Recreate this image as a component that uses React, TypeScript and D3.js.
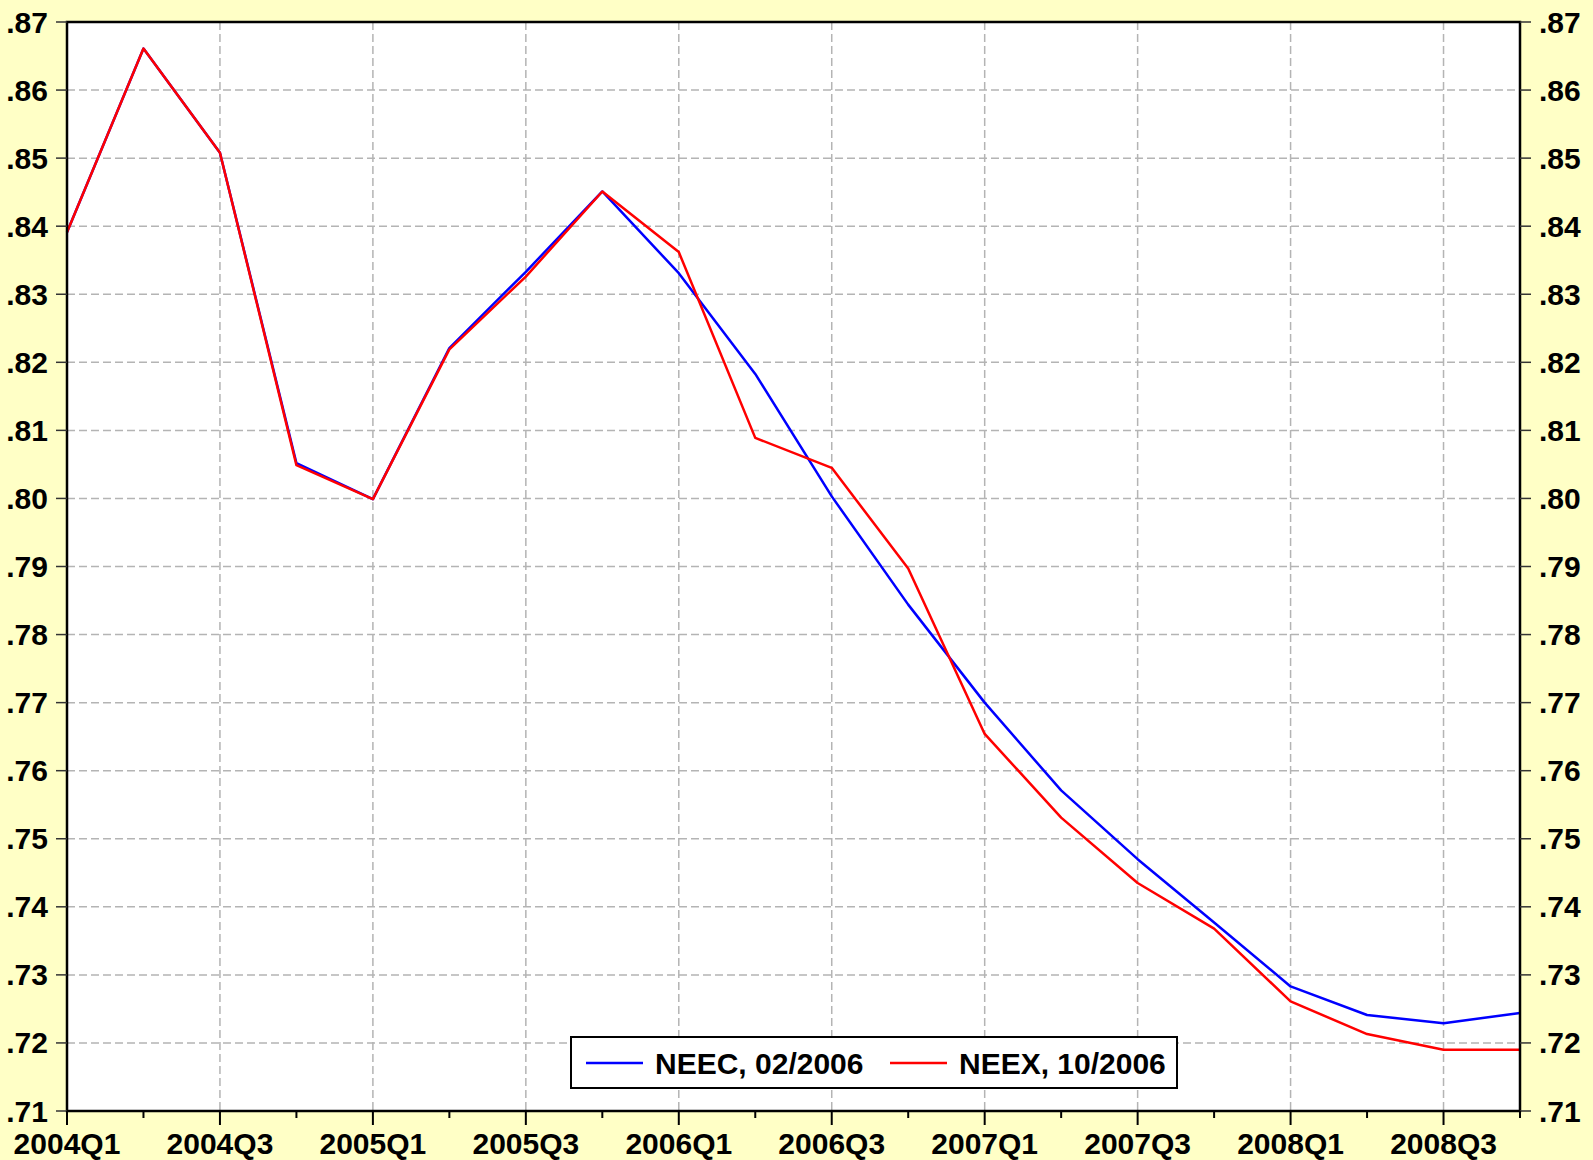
import * as d3 from "d3";
import { useEffect, useRef } from "react";

const quarters = [
  "2004Q1", "2004Q2", "2004Q3", "2004Q4",
  "2005Q1", "2005Q2", "2005Q3", "2005Q4",
  "2006Q1", "2006Q2", "2006Q3", "2006Q4",
  "2007Q1", "2007Q2", "2007Q3", "2007Q4",
  "2008Q1", "2008Q2", "2008Q3", "2008Q4",
];

const neec = [
  0.8391, 0.8661, 0.8508, 0.8052, 0.7999, 0.8221, 0.8333, 0.8451,
  0.8331, 0.8183, 0.8003, 0.7844, 0.7700, 0.7571, 0.7470, 0.7377,
  0.7283, 0.7241, 0.7229, 0.7244,
];

const neex = [
  0.8391, 0.8661, 0.8508, 0.8049, 0.7999, 0.8219, 0.8326, 0.8451,
  0.8362, 0.8089, 0.8045, 0.7897, 0.7654, 0.7531, 0.7435, 0.7368,
  0.7261, 0.7213, 0.7190, 0.7190,
];

const yTicks = [0.71, 0.72, 0.73, 0.74, 0.75, 0.76, 0.77, 0.78, 0.79, 0.8, 0.81, 0.82, 0.83, 0.84, 0.85, 0.86, 0.87];

const legendLabels = ["NEEC, 02/2006", "NEEX, 10/2006"];

export default function App() {
  const ref = useRef<SVGSVGElement | null>(null);

  useEffect(() => {
    const svg = d3.select(ref.current);
    svg.selectAll("*").remove();

    const width = 1593;
    const height = 1160;
    const left = 67;
    const right = 1520;
    const top = 22;
    const bottom = 1111;

    const font = "'Liberation Sans', Arial, sans-serif";
    const fs = 30;

    svg.attr("width", width).attr("height", height);

    svg.append("rect").attr("width", width).attr("height", height).attr("fill", "#FFFFC6");
    svg
      .append("rect")
      .attr("x", left)
      .attr("y", top)
      .attr("width", right - left)
      .attr("height", bottom - top)
      .attr("fill", "white");

    const x = d3.scalePoint<number>().domain(d3.range(quarters.length)).range([left, right]);
    const y = d3.scaleLinear().domain([0.71, 0.87]).range([bottom, top]);

    // grid
    const grid = svg.append("g").attr("stroke", "#b4b4b4").attr("stroke-width", 1.5).attr("stroke-dasharray", "8,4");
    grid
      .selectAll("line.h")
      .data(yTicks)
      .enter()
      .append("line")
      .attr("x1", left)
      .attr("x2", right)
      .attr("y1", (d) => y(d))
      .attr("y2", (d) => y(d));
    grid
      .selectAll("line.v")
      .data(d3.range(2, quarters.length, 2))
      .enter()
      .append("line")
      .attr("x1", (d) => x(d)!)
      .attr("x2", (d) => x(d)!)
      .attr("y1", top)
      .attr("y2", bottom);

    // series
    const line = d3
      .line<number>()
      .x((_, i) => x(i)!)
      .y((d) => y(d));

    svg.append("path").attr("d", line(neec)).attr("fill", "none").attr("stroke", "#0000ff").attr("stroke-width", 2.5).attr("stroke-linejoin", "round");
    svg.append("path").attr("d", line(neex)).attr("fill", "none").attr("stroke", "#ff0000").attr("stroke-width", 2.5).attr("stroke-linejoin", "round");

    // frame
    svg
      .append("rect")
      .attr("x", left)
      .attr("y", top)
      .attr("width", right - left)
      .attr("height", bottom - top)
      .attr("fill", "none")
      .attr("stroke", "black")
      .attr("stroke-width", 2.5);

    const fmt = (d: number) => d.toFixed(2).replace(/^0/, "");

    // left axis
    const yl = svg.append("g");
    yl.selectAll("line")
      .data(yTicks)
      .enter()
      .append("line")
      .attr("x1", left - 11)
      .attr("x2", left)
      .attr("y1", (d) => y(d))
      .attr("y2", (d) => y(d))
      .attr("stroke", "#333")
      .attr("stroke-width", 1.5);
    yl.selectAll("text")
      .data(yTicks)
      .enter()
      .append("text")
      .attr("x", 48)
      .attr("y", (d) => y(d))
      .attr("dy", "0.35em")
      .attr("text-anchor", "end")
      .attr("font-family", font)
      .attr("font-weight", "bold")
      .attr("font-size", fs)
      .text(fmt);

    // right axis
    const yr = svg.append("g");
    yr.selectAll("line")
      .data(yTicks)
      .enter()
      .append("line")
      .attr("x1", right)
      .attr("x2", right + 11)
      .attr("y1", (d) => y(d))
      .attr("y2", (d) => y(d))
      .attr("stroke", "#333")
      .attr("stroke-width", 1.5);
    yr.selectAll("text")
      .data(yTicks)
      .enter()
      .append("text")
      .attr("x", 1539)
      .attr("y", (d) => y(d))
      .attr("dy", "0.35em")
      .attr("text-anchor", "start")
      .attr("font-family", font)
      .attr("font-weight", "bold")
      .attr("font-size", fs)
      .text(fmt);

    // bottom axis
    const xb = svg.append("g");
    xb.selectAll("line")
      .data(d3.range(quarters.length))
      .enter()
      .append("line")
      .attr("x1", (d) => x(d)!)
      .attr("x2", (d) => x(d)!)
      .attr("y1", bottom)
      .attr("y2", (d) => (d % 2 === 0 ? bottom + 14 : bottom + 7))
      .attr("stroke", "black")
      .attr("stroke-width", 2);
    xb.selectAll("text")
      .data(d3.range(0, quarters.length, 2))
      .enter()
      .append("text")
      .attr("x", (d) => x(d)!)
      .attr("y", 1154)
      .attr("text-anchor", "middle")
      .attr("font-family", font)
      .attr("font-weight", "bold")
      .attr("font-size", fs)
      .text((d) => quarters[d]);

    // legend
    const lg = svg.append("g");
    lg.append("rect")
      .attr("x", 571)
      .attr("y", 1037)
      .attr("width", 606)
      .attr("height", 51)
      .attr("fill", "white")
      .attr("stroke", "black")
      .attr("stroke-width", 2);
    const items = [
      { label: legendLabels[0], color: "#0000ff", x0: 586 },
      { label: legendLabels[1], color: "#ff0000", x0: 890 },
    ];
    items.forEach((it) => {
      lg.append("line")
        .attr("x1", it.x0)
        .attr("x2", it.x0 + 57)
        .attr("y1", 1063)
        .attr("y2", 1063)
        .attr("stroke", it.color)
        .attr("stroke-width", 2.5);
      lg.append("text")
        .attr("x", it.x0 + 69)
        .attr("y", 1063)
        .attr("dy", "0.35em")
        .attr("font-family", font)
        .attr("font-weight", "bold")
        .attr("font-size", fs)
        .text(it.label);
    });
  }, []);

  return (
    <div style={{ position: "absolute", left: 0, top: 0 }}>
      <svg ref={ref}></svg>
    </div>
  );
}
